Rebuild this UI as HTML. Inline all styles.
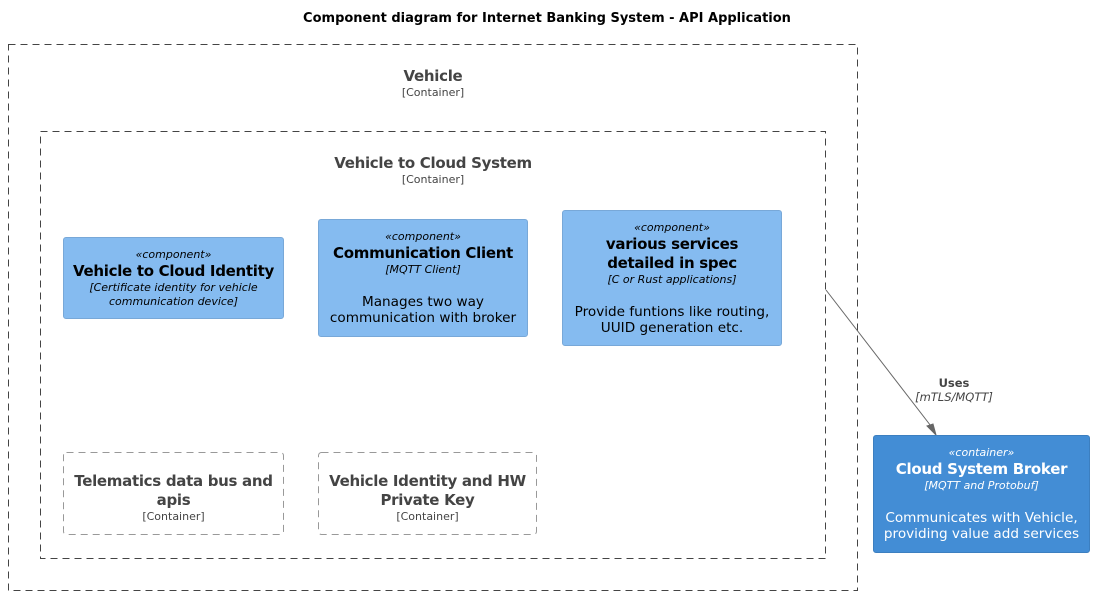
<!DOCTYPE html>
<html><head><meta charset="utf-8"><style>
body{margin:0;width:1094px;height:595px;background:#fff;font-family:"DejaVu Sans","Liberation Sans",sans-serif;position:relative;overflow:hidden;color:#000}
.a{position:absolute;box-sizing:border-box;text-align:center}
.b{background:#85BBF0;border:1px solid #78A8D8;border-radius:3px}
.s{font-size:11px;font-style:italic;line-height:14px}
.t{font-size:15px;font-weight:bold;line-height:19px;letter-spacing:-0.3px}
.k{font-size:11px;font-style:italic;line-height:14px}
.p{font-size:13.6px;line-height:16px}
.L{color:#444}
</style></head><body>
<div class="a" style="left:0;top:11px;width:1094px;font-size:13px;font-weight:bold">Component diagram for Internet Banking System - API Application</div>
<svg class="a" style="left:0;top:0" width="1094" height="595">
<rect x="8.5" y="44.5" width="849" height="546" fill="none" stroke="#444" stroke-dasharray="7,5"/>
<rect x="40.5" y="131.5" width="785" height="427" fill="none" stroke="#444" stroke-dasharray="7,5"/>
<rect x="63.5" y="452.5" width="220" height="82" rx="3" fill="none" stroke="#999" stroke-dasharray="7,5"/>
<rect x="318.5" y="452.5" width="218" height="82" rx="3" fill="none" stroke="#999" stroke-dasharray="7,5"/>
<line x1="826" y1="290" x2="934" y2="430" stroke="#666" stroke-width="1"/><polygon points="936,435 927,426 933,424" fill="#666" stroke="#666"/>
</svg>
<div class="a L" style="left:8px;top:67px;width:850px"><div class="t">Vehicle</div><div style="font-size:11px">[Container]</div></div>
<div class="a L" style="left:40px;top:154px;width:786px"><div class="t">Vehicle to Cloud System</div><div style="font-size:11px">[Container]</div></div>
<div class="a b" style="left:63px;top:237px;width:221px;height:82px;padding-top:10px"><div class="s">«component»</div><div class="t">Vehicle to Cloud Identity</div><div class="k">[Certificate identity for vehicle<br>communication device]</div></div>
<div class="a b" style="left:318px;top:219px;width:210px;height:118px;padding-top:10px"><div class="s">«component»</div><div class="t">Communication Client</div><div class="k">[MQTT Client]</div><div class="p" style="margin-top:17px">Manages two way<br>communication with broker</div></div>
<div class="a b" style="left:562px;top:210px;width:220px;height:136px;padding-top:10px"><div class="s">«component»</div><div class="t">various services<br>detailed in spec</div><div class="k">[C or Rust applications]</div><div class="p" style="margin-top:17px">Provide funtions like routing,<br>UUID generation etc.</div></div>
<div class="a L" style="left:63px;top:472px;width:221px"><div class="t">Telematics data bus and<br>apis</div><div style="font-size:11px">[Container]</div></div>
<div class="a L" style="left:318px;top:472px;width:219px"><div class="t">Vehicle Identity and HW<br>Private Key</div><div style="font-size:11px">[Container]</div></div>
<div class="a b" style="left:873px;top:435px;width:217px;height:118px;padding-top:10px;background:#438DD5;border-color:#3C7FC0;color:#fff"><div class="s">«container»</div><div class="t">Cloud System Broker</div><div class="k">[MQTT and Protobuf]</div><div class="p" style="margin-top:17px">Communicates with Vehicle,<br>providing value add services</div></div>
<div class="a L" style="left:894px;top:376px;width:120px;font-size:11.5px"><b>Uses</b><br><i>[mTLS/MQTT]</i></div>
</body></html>
